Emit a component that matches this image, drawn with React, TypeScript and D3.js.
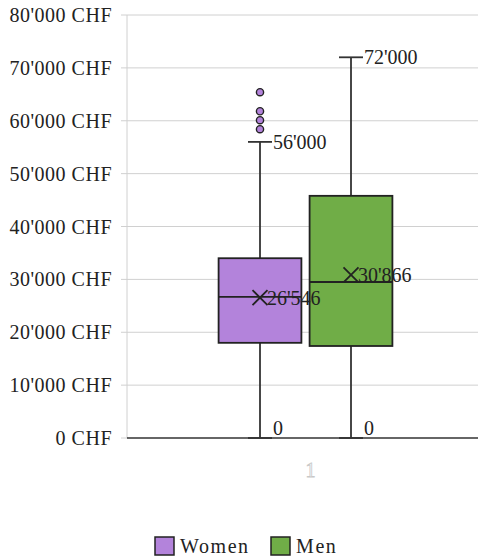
import React from "react";
import * as d3 from "d3";

const categories = ["1"];
const seriesNames = ["Women", "Men"];
const seriesColors = ["#b383db", "#70ad47"];
const minValues = [0, 0];
const q1Values = [18000, 17400];
const medianValues = [26700, 29500];
const q3Values = [34000, 45800];
const maxValues = [56000, 72000];
const meanValues = [26546, 30866];
const outliersWomen = [58400, 60100, 61800, 65400];
const outliersMen: number[] = [];
const yTicks = [0, 10000, 20000, 30000, 40000, 50000, 60000, 70000, 80000];

const W = 479;
const H = 558;
const FONT = "'Liberation Serif', 'DejaVu Serif', serif";

const locale = d3.formatLocale({ decimal: ".", thousands: "'", grouping: [3], currency: ["", ""] });
const fmt = locale.format(",.0f");

export default function App() {
  const plotLeft = 127;
  const plotRight = 478;
  const y = d3.scaleLinear().domain([0, 80000]).range([438, 15]);
  const x0 = d3.scaleBand().domain(categories).range([133, 478]).padding(0);
  const cx = (x0(categories[0]) as number) + x0.bandwidth() / 2;
  const x1 = d3.scaleBand().domain(seriesNames).range([cx - 91, cx + 91]).paddingInner(0.09).paddingOuter(0.045);
  const outliers = [outliersWomen, outliersMen];
  const sw = 1.8;
  const capW = 24;
  const mid = (s: string) => (x1(s) as number) + x1.bandwidth() / 2;

  return (
    <svg width={W} height={H} style={{ position: "absolute", left: 0, top: 0 }} fontFamily={FONT}>
      {yTicks.map((t) => (
        <g key={t}>
          {t > 0 && <line x1={plotLeft} x2={plotRight} y1={y(t)} y2={y(t)} stroke="#d0d0d0" strokeWidth={1} />}
          <line x1={121} x2={plotLeft} y1={y(t)} y2={y(t)} stroke="#d0d0d0" strokeWidth={1} />
          <text x={112} y={y(t)} dy="0.35em" textAnchor="end" fontSize={20} letterSpacing={0.5} fill="#222">
            {fmt(t)} CHF
          </text>
        </g>
      ))}
      <line x1={plotLeft} x2={plotLeft} y1={y(80000)} y2={y(0)} stroke="#d0d0d0" strokeWidth={1} />
      <line x1={plotLeft} x2={plotRight} y1={y(0)} y2={y(0)} stroke="#333" strokeWidth={1.5} />
      <text x={cx + 5} y={477} textAnchor="middle" fontSize={20} fill="#fff" stroke="#c8c8c8" strokeWidth={0.8}>
        {categories[0]}
      </text>

      {seriesNames.map((s, i) => {
        const bx = x1(s) as number;
        const bw = x1.bandwidth();
        const mx = mid(s);
        const mean = meanValues[i];
        return (
          <g key={s}>
            <line x1={mx} x2={mx} y1={y(maxValues[i])} y2={y(q3Values[i])} stroke="#333" strokeWidth={sw} />
            <line x1={mx} x2={mx} y1={y(q1Values[i])} y2={y(minValues[i])} stroke="#333" strokeWidth={sw} />
            <line x1={mx - capW / 2} x2={mx + capW / 2} y1={y(maxValues[i])} y2={y(maxValues[i])} stroke="#333" strokeWidth={sw} />
            <line x1={mx - capW / 2} x2={mx + capW / 2} y1={y(minValues[i])} y2={y(minValues[i])} stroke="#333" strokeWidth={sw} />
            <rect
              x={bx}
              y={y(q3Values[i])}
              width={bw}
              height={y(q1Values[i]) - y(q3Values[i])}
              fill={seriesColors[i]}
              stroke="#222"
              strokeWidth={sw}
            />
            <line x1={bx} x2={bx + bw} y1={y(medianValues[i])} y2={y(medianValues[i])} stroke="#222" strokeWidth={sw} />
            <path
              d={`M${mx - 7.5},${y(mean) - 7.5}L${mx + 7.5},${y(mean) + 7.5}M${mx - 7.5},${y(mean) + 7.5}L${mx + 7.5},${y(mean) - 7.5}`}
              stroke="#222"
              strokeWidth={sw}
              fill="none"
            />
            {outliers[i].map((o, k) => (
              <circle key={k} cx={mx} cy={y(o)} r={3.6} fill={seriesColors[i]} stroke="#222" strokeWidth={1.4} />
            ))}
          </g>
        );
      })}

      {seriesNames.map((s, i) => {
        const mx = mid(s);
        const mean = meanValues[i];
        return (
          <g key={"lab" + s} fontSize={20} fill="#222">
            <text x={mx + 7} y={y(mean)} dy="0.35em">
              {fmt(mean)}
            </text>
            <text x={mx + capW / 2 + 1} y={y(maxValues[i])} dy="0.35em">
              {fmt(maxValues[i])}
            </text>
            <text x={mx + capW / 2 + 1} y={y(minValues[i]) - 10} dy="0.35em">
              {fmt(minValues[i])}
            </text>
          </g>
        );
      })}

      {seriesNames.map((s, i) => {
        const lx = i === 0 ? 155 : 271;
        return (
          <g key={"leg" + s}>
            <rect x={lx} y={537} width={19} height={18} fill={seriesColors[i]} stroke="#222" strokeWidth={1.5} />
            <text x={lx + 25} y={546} dy="0.35em" fontSize={20} letterSpacing={1.6} fill="#222">
              {s}
            </text>
          </g>
        );
      })}
    </svg>
  );
}
